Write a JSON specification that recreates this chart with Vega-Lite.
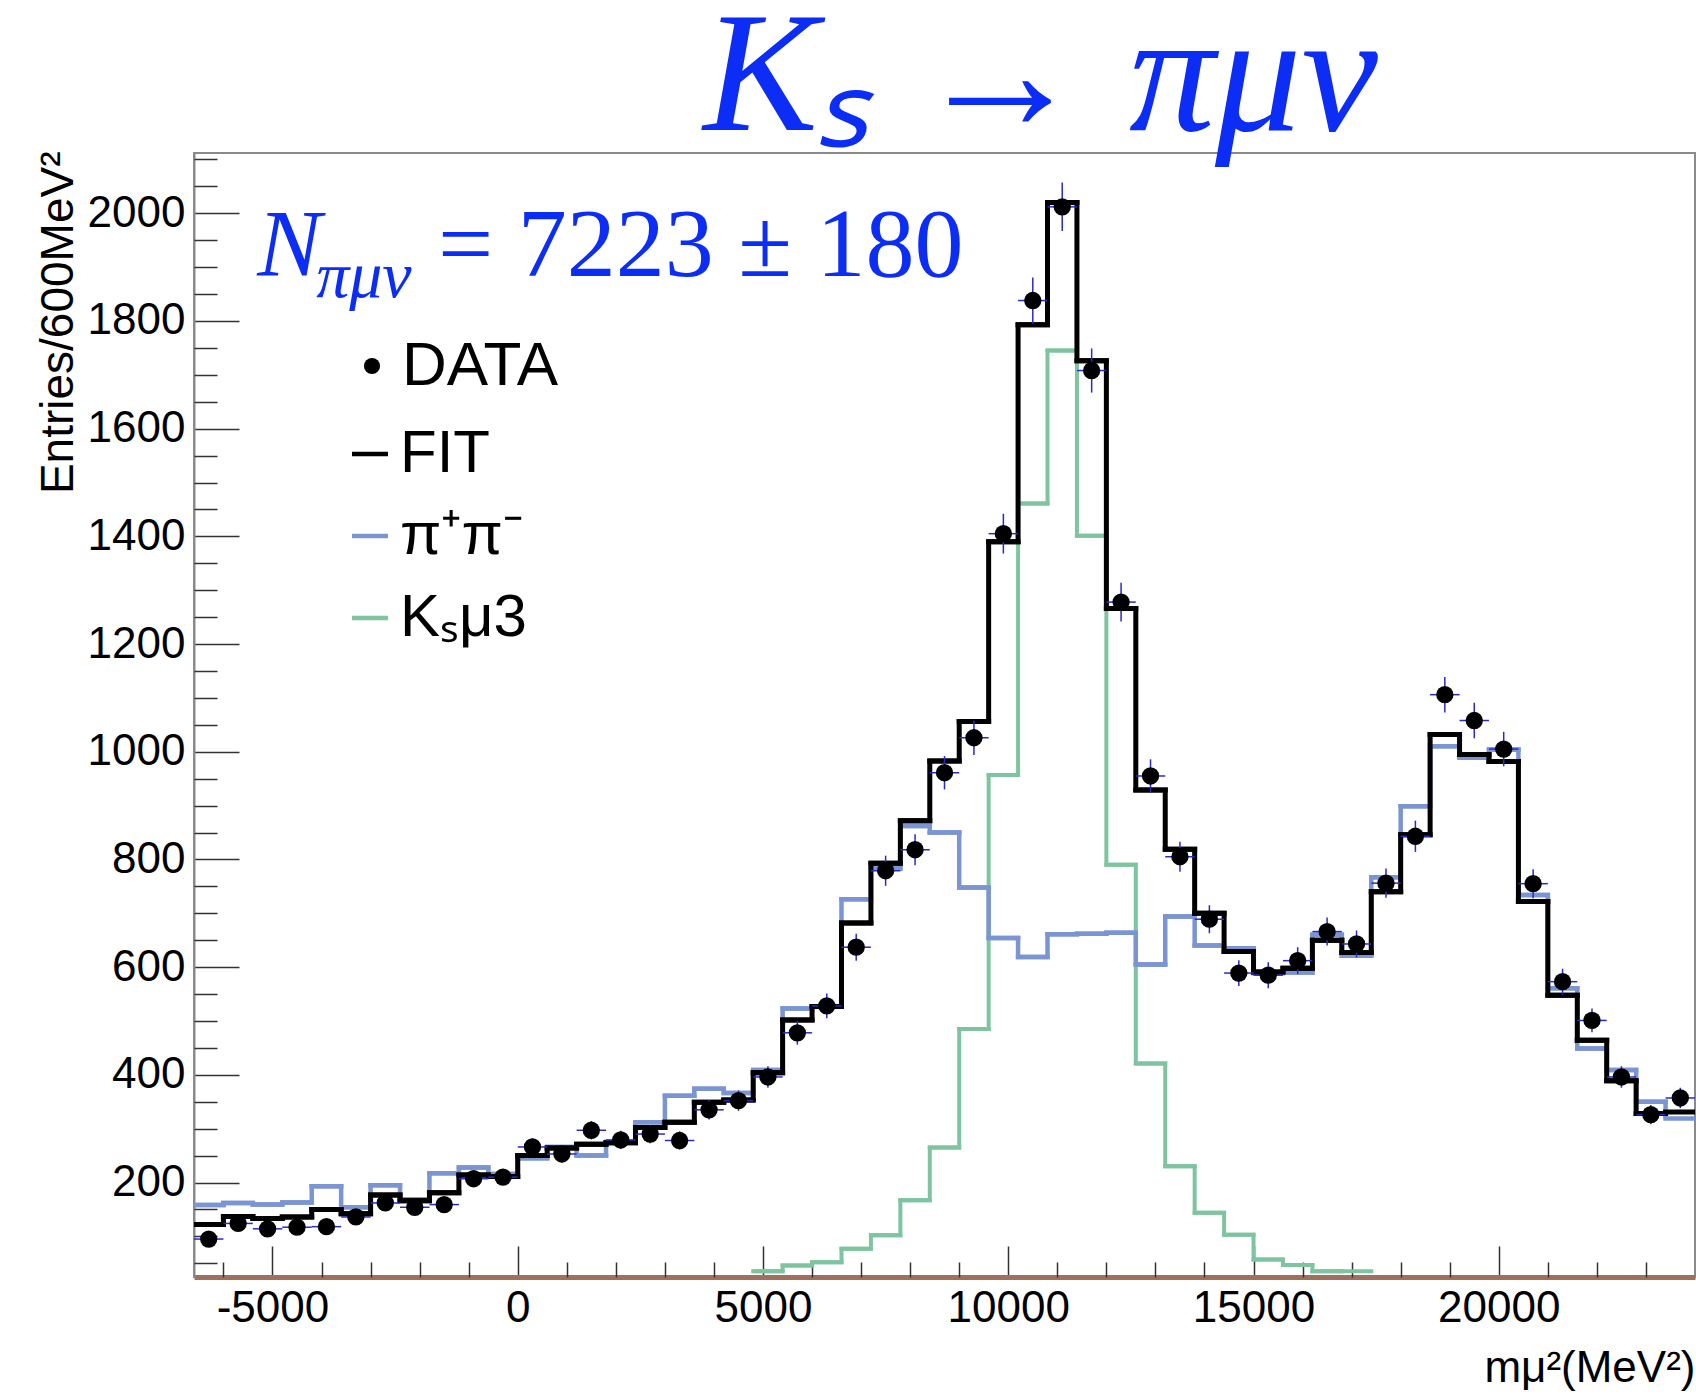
{
  "$schema": "https://vega.github.io/schema/vega-lite/v6.json",
  "width": 1501,
  "height": 1124,
  "autosize": {"type": "none"},
  "padding": {"left": 194, "top": 153, "right": 1, "bottom": 120},
  "background": "white",
  "config": {
    "view": {"stroke": "#8a8a8a", "strokeWidth": 2},
    "axis": {"labelFont": "Liberation Sans", "titleFont": "Liberation Sans", "labelFontSize": 44, "titleFontSize": 44, "labelColor": "black", "titleColor": "black", "titleFontWeight": "normal", "grid": false}
  },
  "title": {"text": "Kₛ → πμν", "font": "Liberation Serif", "fontSize": 172, "fontStyle": "italic", "fontWeight": "normal", "color": "#0b2df5", "anchor": "middle", "frame": "group", "dx": 96, "dy": 169, "baseline": "alphabetic", "offset": 18},
  "data": {"values": [
    {"lo": -6600, "hi": -6000, "m": -6300, "data": 95, "err": 10, "fit": 122, "pipi": 158},
    {"lo": -6000, "hi": -5400, "m": -5700, "data": 124, "err": 11, "fit": 137, "pipi": 162},
    {"lo": -5400, "hi": -4800, "m": -5100, "data": 114, "err": 11, "fit": 133, "pipi": 159},
    {"lo": -4800, "hi": -4200, "m": -4500, "data": 117, "err": 11, "fit": 136, "pipi": 163},
    {"lo": -4200, "hi": -3600, "m": -3900, "data": 118, "err": 11, "fit": 150, "pipi": 193},
    {"lo": -3600, "hi": -3000, "m": -3300, "data": 136, "err": 12, "fit": 142, "pipi": 154},
    {"lo": -3000, "hi": -2400, "m": -2700, "data": 162, "err": 13, "fit": 177, "pipi": 195},
    {"lo": -2400, "hi": -1800, "m": -2100, "data": 154, "err": 12, "fit": 166, "pipi": 169},
    {"lo": -1800, "hi": -1200, "m": -1500, "data": 159, "err": 13, "fit": 181, "pipi": 217},
    {"lo": -1200, "hi": -600, "m": -900, "data": 207, "err": 14, "fit": 214, "pipi": 228},
    {"lo": -600, "hi": 0, "m": -300, "data": 210, "err": 14, "fit": 211, "pipi": 216},
    {"lo": 0, "hi": 600, "m": 300, "data": 266, "err": 16, "fit": 250, "pipi": 245},
    {"lo": 600, "hi": 1200, "m": 900, "data": 253, "err": 16, "fit": 264, "pipi": 266},
    {"lo": 1200, "hi": 1800, "m": 1500, "data": 297, "err": 17, "fit": 271, "pipi": 250},
    {"lo": 1800, "hi": 2400, "m": 2100, "data": 279, "err": 17, "fit": 274, "pipi": 275},
    {"lo": 2400, "hi": 3000, "m": 2700, "data": 290, "err": 17, "fit": 302, "pipi": 312},
    {"lo": 3000, "hi": 3600, "m": 3300, "data": 278, "err": 17, "fit": 312, "pipi": 361},
    {"lo": 3600, "hi": 4200, "m": 3900, "data": 335, "err": 18, "fit": 349, "pipi": 374},
    {"lo": 4200, "hi": 4800, "m": 4500, "data": 352, "err": 19, "fit": 353, "pipi": 366},
    {"lo": 4800, "hi": 5400, "m": 5100, "data": 396, "err": 20, "fit": 404, "pipi": 409, "ksmu3": 35},
    {"lo": 5400, "hi": 6000, "m": 5700, "data": 478, "err": 22, "fit": 502, "pipi": 523, "ksmu3": 46},
    {"lo": 6000, "hi": 6600, "m": 6300, "data": 528, "err": 23, "fit": 527, "pipi": 527, "ksmu3": 52},
    {"lo": 6600, "hi": 7200, "m": 6900, "data": 637, "err": 25, "fit": 682, "pipi": 726, "ksmu3": 77},
    {"lo": 7200, "hi": 7800, "m": 7500, "data": 779, "err": 28, "fit": 793, "pipi": 783, "ksmu3": 102},
    {"lo": 7800, "hi": 8400, "m": 8100, "data": 818, "err": 29, "fit": 872, "pipi": 862, "ksmu3": 167},
    {"lo": 8400, "hi": 9000, "m": 8700, "data": 961, "err": 31, "fit": 983, "pipi": 850, "ksmu3": 265},
    {"lo": 9000, "hi": 9600, "m": 9300, "data": 1026, "err": 32, "fit": 1056, "pipi": 748, "ksmu3": 485},
    {"lo": 9600, "hi": 10200, "m": 9900, "data": 1405, "err": 37, "fit": 1390, "pipi": 654, "ksmu3": 957},
    {"lo": 10200, "hi": 10800, "m": 10500, "data": 1838, "err": 43, "fit": 1793, "pipi": 619, "ksmu3": 1461},
    {"lo": 10800, "hi": 11400, "m": 11100, "data": 2012, "err": 45, "fit": 2020, "pipi": 661, "ksmu3": 1745},
    {"lo": 11400, "hi": 12000, "m": 11700, "data": 1708, "err": 41, "fit": 1726, "pipi": 662, "ksmu3": 1401},
    {"lo": 12000, "hi": 12600, "m": 12300, "data": 1278, "err": 36, "fit": 1266, "pipi": 664, "ksmu3": 790},
    {"lo": 12600, "hi": 13200, "m": 12900, "data": 955, "err": 31, "fit": 929, "pipi": 605, "ksmu3": 421},
    {"lo": 13200, "hi": 13800, "m": 13500, "data": 805, "err": 28, "fit": 819, "pipi": 694, "ksmu3": 230},
    {"lo": 13800, "hi": 14400, "m": 14100, "data": 689, "err": 26, "fit": 700, "pipi": 640, "ksmu3": 144},
    {"lo": 14400, "hi": 15000, "m": 14700, "data": 589, "err": 24, "fit": 629, "pipi": 635, "ksmu3": 103},
    {"lo": 15000, "hi": 15600, "m": 15300, "data": 585, "err": 24, "fit": 591, "pipi": 589, "ksmu3": 57},
    {"lo": 15600, "hi": 16200, "m": 15900, "data": 612, "err": 25, "fit": 598, "pipi": 590, "ksmu3": 47},
    {"lo": 16200, "hi": 16800, "m": 16500, "data": 666, "err": 26, "fit": 650, "pipi": 660, "ksmu3": 35},
    {"lo": 16800, "hi": 17400, "m": 17100, "data": 643, "err": 25, "fit": 627, "pipi": 621, "ksmu3": 35},
    {"lo": 17400, "hi": 18000, "m": 17700, "data": 756, "err": 27, "fit": 740, "pipi": 767},
    {"lo": 18000, "hi": 18600, "m": 18300, "data": 843, "err": 29, "fit": 846, "pipi": 899},
    {"lo": 18600, "hi": 19200, "m": 18900, "data": 1106, "err": 33, "fit": 1032, "pipi": 1010},
    {"lo": 19200, "hi": 19800, "m": 19500, "data": 1058, "err": 33, "fit": 995, "pipi": 989},
    {"lo": 19800, "hi": 20400, "m": 20100, "data": 1005, "err": 32, "fit": 982, "pipi": 1004},
    {"lo": 20400, "hi": 21000, "m": 20700, "data": 755, "err": 27, "fit": 722, "pipi": 734},
    {"lo": 21000, "hi": 21600, "m": 21300, "data": 573, "err": 24, "fit": 548, "pipi": 561},
    {"lo": 21600, "hi": 22200, "m": 21900, "data": 501, "err": 22, "fit": 464, "pipi": 449},
    {"lo": 22200, "hi": 22800, "m": 22500, "data": 396, "err": 20, "fit": 389, "pipi": 409},
    {"lo": 22800, "hi": 23400, "m": 23100, "data": 326, "err": 18, "fit": 328, "pipi": 350},
    {"lo": 23400, "hi": 24000, "m": 23700, "data": 357, "err": 19, "fit": 331, "pipi": 319}
  ]},
  "resolve": {"axis": {"x": "independent", "y": "independent"}},
  "layer": [
    {
      "transform": [{"filter": "isValid(datum.ksmu3)"}],
      "mark": {"type": "line", "interpolate": "step-after", "strokeWidth": 4, "clip": true},
      "encoding": {
        "x": {"field": "lo", "type": "quantitative", "scale": {"domain": [-6600, 24000], "nice": false, "zero": false},
          "axis": {"orient": "bottom", "values": [-5000, 0, 5000, 10000, 15000, 20000], "tickSize": -31, "tickWidth": 1.5, "tickColor": "#333333", "domainColor": "#a0705e", "domainWidth": 5, "labelPadding": 40, "labelExpr": "datum.value < 0 ? '-' + format(-datum.value, 'd') : format(datum.value, 'd')", "labelFlush": false, "labelOverlap": false, "title": "mμ²(MeV²)", "titleAnchor": null, "titleX": 1501, "titleY": 104, "titleAlign": "right", "titleBaseline": "alphabetic"}},
        "y": {"field": "ksmu3", "type": "quantitative", "scale": {"domain": [24.5, 2112], "nice": false, "zero": false},
          "axis": {"orient": "left", "values": [200, 400, 600, 800, 1000, 1200, 1400, 1600, 1800, 2000], "tickSize": -45, "tickWidth": 1.5, "tickColor": "#333333", "domainColor": "#8a8a8a", "domainWidth": 2, "labelPadding": 54, "format": "d", "labelOverlap": false, "title": "Entries/600MeV²", "titleFontSize": 46, "titleAngle": 270, "titleX": -136, "titleY": -2, "titleAlign": "right", "titleBaseline": "middle", "titleAnchor": null}},
        "color": {"datum": "Kₛμ3", "scale": {"domain": ["FIT", "π⁺π⁻", "Kₛμ3"], "range": ["#000000", "#7b95d2", "#7fc4a1"]},
          "legend": {"title": null, "orient": "none", "legendX": 146, "legendY": 271, "labelFont": "Liberation Sans", "labelFontSize": 60, "labelColor": "black", "symbolType": "stroke", "symbolSize": 1296, "symbolStrokeWidth": 4.5, "labelOffset": 0, "rowPadding": 22, "padding": 0, "labelLimit": 400}}
      }
    },
    {
      "transform": [{"filter": "isValid(datum.ksmu3)"}],
      "mark": {"type": "rule", "strokeWidth": 4, "strokeCap": "square", "clip": true},
      "encoding": {
        "x": {"field": "lo", "type": "quantitative", "axis": null},
        "x2": {"field": "hi"},
        "y": {"field": "ksmu3", "type": "quantitative", "axis": null},
        "color": {"datum": "Kₛμ3"}
      }
    },
    {
      "mark": {"type": "line", "interpolate": "step-after", "strokeWidth": 4.5, "clip": true},
      "encoding": {
        "x": {"field": "lo", "type": "quantitative",
          "axis": {"orient": "bottom", "values": [-6000, -4000, -3000, -2000, -1000, 1000, 2000, 3000, 4000, 6000, 7000, 8000, 9000, 11000, 12000, 13000, 14000, 16000, 17000, 18000, 19000, 21000, 22000, 23000], "tickSize": -15, "tickWidth": 1.5, "tickColor": "#333333", "labels": false, "domain": false, "title": null}},
        "y": {"field": "pipi", "type": "quantitative",
          "axis": {"orient": "left", "values": [50, 100, 150, 250, 300, 350, 450, 500, 550, 650, 700, 750, 850, 900, 950, 1050, 1100, 1150, 1250, 1300, 1350, 1450, 1500, 1550, 1650, 1700, 1750, 1850, 1900, 1950, 2050, 2100], "tickSize": -23, "tickWidth": 1.5, "tickColor": "#333333", "labels": false, "domain": false, "title": null}},
        "color": {"datum": "π⁺π⁻"}
      }
    },
    {
      "mark": {"type": "rule", "strokeWidth": 4.5, "strokeCap": "square", "clip": true},
      "encoding": {
        "x": {"field": "lo", "type": "quantitative", "axis": null},
        "x2": {"field": "hi"},
        "y": {"field": "pipi", "type": "quantitative", "axis": null},
        "color": {"datum": "π⁺π⁻"}
      }
    },
    {
      "mark": {"type": "line", "interpolate": "step-after", "strokeWidth": 5, "clip": true},
      "encoding": {
        "x": {"field": "lo", "type": "quantitative", "axis": null},
        "y": {"field": "fit", "type": "quantitative", "axis": null},
        "color": {"datum": "FIT"}
      }
    },
    {
      "mark": {"type": "rule", "strokeWidth": 5, "strokeCap": "square", "clip": true},
      "encoding": {
        "x": {"field": "lo", "type": "quantitative", "axis": null},
        "x2": {"field": "hi"},
        "y": {"field": "fit", "type": "quantitative", "axis": null},
        "color": {"datum": "FIT"}
      }
    },
    {
      "mark": {"type": "errorbar", "ticks": false, "color": "#2a2acc", "thickness": 1.5, "clip": true},
      "encoding": {
        "x": {"field": "m", "type": "quantitative", "axis": null},
        "y": {"field": "data", "type": "quantitative", "axis": null},
        "yError": {"field": "err"}
      }
    },
    {
      "mark": {"type": "rule", "color": "#2a2acc", "strokeWidth": 1.5, "clip": true},
      "encoding": {
        "x": {"field": "lo", "type": "quantitative", "axis": null},
        "x2": {"field": "hi"},
        "y": {"field": "data", "type": "quantitative", "axis": null}
      }
    },
    {
      "mark": {"type": "point", "filled": true, "size": 300, "color": "black", "opacity": 1, "clip": true},
      "encoding": {
        "x": {"field": "m", "type": "quantitative", "axis": null},
        "y": {"field": "data", "type": "quantitative", "axis": null},
        "shape": {"datum": "DATA", "scale": {"range": ["circle"]},
          "legend": {"title": null, "orient": "none", "legendX": 147, "legendY": 182, "labelFont": "Liberation Sans", "labelFontSize": 62, "labelColor": "black", "symbolSize": 260, "symbolFillColor": "black", "symbolStrokeColor": "black", "labelOffset": -1, "padding": 0, "labelLimit": 400}}
      }
    },
    {
      "data": {"values": [{}]},
      "mark": {"type": "text", "text": "N", "font": "Liberation Serif", "fontStyle": "italic", "fontSize": 96, "color": "#0b2df5", "align": "left", "baseline": "alphabetic"},
      "encoding": {
        "x": {"datum": -5312, "type": "quantitative", "axis": null},
        "y": {"datum": 1884, "type": "quantitative", "axis": null}
      }
    },
    {
      "data": {"values": [{}]},
      "mark": {"type": "text", "text": "πμν", "font": "Liberation Serif", "fontStyle": "italic", "fontSize": 66, "color": "#0b2df5", "align": "left", "baseline": "alphabetic"},
      "encoding": {
        "x": {"datum": -4110, "type": "quantitative", "axis": null},
        "y": {"datum": 1845, "type": "quantitative", "axis": null}
      }
    },
    {
      "data": {"values": [{}]},
      "mark": {"type": "text", "text": "= 7223 ± 180", "font": "Liberation Serif", "fontSize": 98, "color": "#0b2df5", "align": "left", "baseline": "alphabetic"},
      "encoding": {
        "x": {"datum": -1625, "type": "quantitative", "axis": null},
        "y": {"datum": 1884, "type": "quantitative", "axis": null}
      }
    }
  ]
}
